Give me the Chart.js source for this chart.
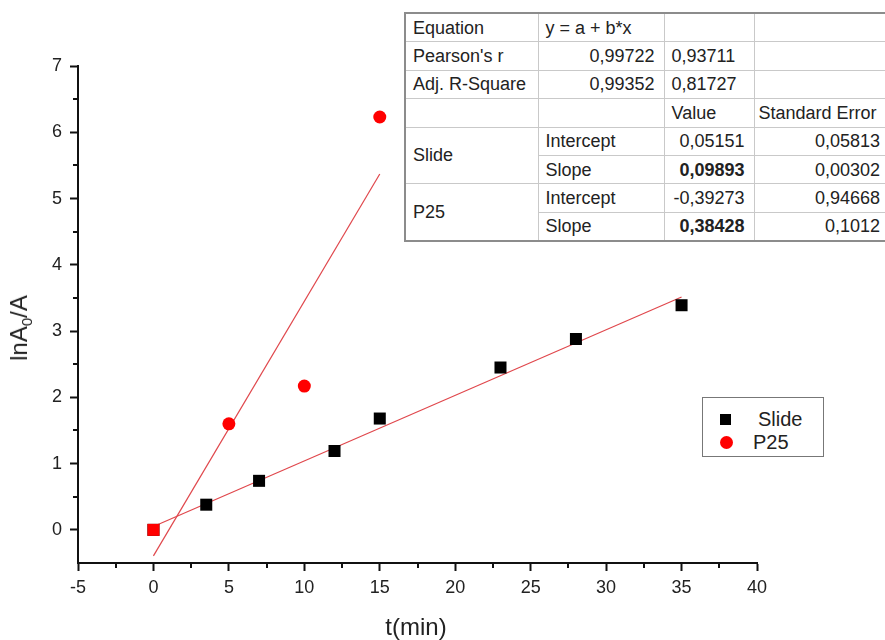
<!DOCTYPE html>
<html>
<head>
<meta charset="utf-8">
<script src="https://cdn.jsdelivr.net/npm/chart.js@4/dist/chart.umd.min.js"></script>
<style>
  html, body { margin: 0; padding: 0; background: #fff; }
  #wrap { position: relative; width: 885px; height: 640px; overflow: hidden; font-family: "Liberation Sans", Arial, sans-serif; color: #222; }
  #c { position: absolute; left: 0; top: 0; }
  #ytitle { position: absolute; left: 20px; top: 328px; transform: translate(-50%, -50%) rotate(-90deg); font-size: 24px; white-space: nowrap; }
  #ytitle sub { font-size: 15px; vertical-align: -5px; }
  #xtitle { position: absolute; left: 416px; top: 627px; transform: translate(-50%, -50%); font-size: 24px; white-space: nowrap; }
  #legend { position: absolute; left: 702px; top: 397px; width: 120px; height: 58px; border: 1px solid #777; background: #fff; font-size: 20px; }
  #legend .it { position: absolute; white-space: nowrap; }
  #legend .sq { position: absolute; width: 11px; height: 11px; background: #000; }
  #legend .ci { position: absolute; width: 13px; height: 13px; background: #f00; border-radius: 50%; }
  table.fit { position: absolute; left: 404px; top: 12px; border-collapse: collapse; border: 2px solid #8c8c8c; font-size: 18px; background: #fff; table-layout: fixed; }
  table.fit td { border: 1px solid #c9c9c9; height: 27.4px; padding: 0; white-space: nowrap; overflow: hidden; line-height: 20px; }
  table.fit td.l { text-align: left; padding-left: 7px; }
  table.fit td.l4 { text-align: left; padding-left: 4px; }
  table.fit td.r { text-align: right; padding-right: 9px; }
  table.fit td.b { font-weight: bold; }
</style>
</head>
<body>
<div id="wrap">
  <canvas id="c" width="885" height="640"></canvas>
  <div id="ytitle">lnA<sub>0</sub>/A</div>
  <div id="xtitle">t(min)</div>
  <table class="fit" id="fitTable"></table>
  <div id="legend"></div>
</div>
<script>
// ---- data ----
const slideT = [0, 3.5, 7, 12, 15, 23, 28, 35];
const slideY = [0, 0.38, 0.74, 1.19, 1.68, 2.45, 2.88, 3.39];
const p25T = [0, 5, 10, 15];
const p25Y = [0, 1.6, 2.17, 6.23];
// linear fit lines (endpoints from the fit table: y = a + b*x)
const slideFitT = [0, 35];
const slideFitY = [0.0515, 3.514];
const p25FitT = [0, 15];
const p25FitY = [-0.393, 5.371];
// axis ticks
const xTicks = [-5, 0, 5, 10, 15, 20, 25, 30, 35, 40];
const xMinorTicks = [-2.5, 2.5, 7.5, 12.5, 17.5, 22.5, 27.5, 32.5, 37.5];
const yTicks = [0, 1, 2, 3, 4, 5, 6, 7];
const yMinorTicks = [0.5, 1.5, 2.5, 3.5, 4.5, 5.5, 6.5];
// legend
const seriesNames = ["Slide", "P25"];
// fit table rows
const tableRows = [
  [["Equation","l"], ["y = a + b*x","l"], ["",""], ["",""]],
  [["Pearson's r","l"], ["0,99722","r"], ["0,93711","l"], ["",""]],
  [["Adj. R-Square","l"], ["0,99352","r"], ["0,81727","l"], ["",""]],
  [["","l"], ["","l"], ["Value","l"], ["Standard Error","l4"]],
  [["Slide","l",2], ["Intercept","l"], ["0,05151","r"], ["0,05813","r"]],
  [["Slope","l"], ["0,09893","r b"], ["0,00302","r"]],
  [["P25","l",2], ["Intercept","l"], ["-0,39273","r"], ["0,94668","r"]],
  [["Slope","l"], ["0,38428","r b"], ["0,1012","r"]]
];

// ---- table ----
const colW = [133, 126, 90, 136];
const tbl = document.getElementById('fitTable');
const cg = document.createElement('colgroup');
colW.forEach(w => { const c = document.createElement('col'); c.style.width = w + 'px'; cg.appendChild(c); });
tbl.appendChild(cg);
tableRows.forEach(row => {
  const tr = document.createElement('tr');
  row.forEach(cell => {
    const td = document.createElement('td');
    td.textContent = cell[0];
    td.className = cell[1];
    if (cell[2]) td.rowSpan = cell[2];
    tr.appendChild(td);
  });
  tbl.appendChild(tr);
});
tbl.style.width = colW.reduce((a, b) => a + b, 0) + 'px';

// ---- legend ----
const lg = document.getElementById('legend');
lg.innerHTML =
  '<div class="sq" style="left:17px;top:16px"></div>' +
  '<div class="it" style="left:55px;top:10px">' + seriesNames[0] + '</div>' +
  '<div class="ci" style="left:17px;top:38px"></div>' +
  '<div class="it" style="left:50px;top:33px">' + seriesNames[1] + '</div>';

const pts = (xs, ys) => xs.map((x, i) => ({x: x, y: ys[i]}));

// minor ticks plugin (drawn through the library's scales)
const minorTicks = {
  id: 'minorTicks',
  afterDraw(chart) {
    const ctx = chart.ctx, xs = chart.scales.x, ys = chart.scales.y;
    const ca = chart.chartArea;
    ctx.save();
    ctx.strokeStyle = '#111';
    ctx.lineWidth = 2;
    ctx.beginPath();
    xMinorTicks.forEach(v => { const p = Math.round(xs.getPixelForValue(v)); ctx.moveTo(p, ca.bottom); ctx.lineTo(p, ca.bottom + 5); });
    yMinorTicks.forEach(v => { const p = Math.round(ys.getPixelForValue(v)); ctx.moveTo(ca.left, p); ctx.lineTo(ca.left - 5, p); });
    ctx.stroke();
    ctx.restore();
  }
};

const tickFont = {family: "'Liberation Sans', Arial, sans-serif", size: 18};
new Chart(document.getElementById('c'), {
  type: 'scatter',
  data: {
    datasets: [
      {label: 'P25', data: pts(p25T, p25Y), backgroundColor: '#ff0000', borderColor: '#ff0000',
       pointStyle: ['rect', 'circle', 'circle', 'circle'], pointRadius: [8.5, 6.5, 6.5, 6.5], borderWidth: 0, order: 0},
      {label: 'Slide', data: pts(slideT, slideY), backgroundColor: '#000', borderColor: '#000',
       pointStyle: 'rect', pointRadius: 8.5, borderWidth: 0, order: 1},
      {label: 'Slide fit', data: pts(slideFitT, slideFitY), showLine: true, borderColor: '#e0474c', borderWidth: 1.2,
       pointRadius: 0, fill: false, tension: 0, order: 2},
      {label: 'P25 fit', data: pts(p25FitT, p25FitY), showLine: true, borderColor: '#e0474c', borderWidth: 1.2,
       pointRadius: 0, fill: false, tension: 0, order: 3}
    ]
  },
  options: {
    responsive: false,
    animation: false,
    devicePixelRatio: 1,
    layout: {padding: {left: 0, right: 128, top: 66, bottom: 27}},
    plugins: {legend: {display: false}, tooltip: {enabled: false}},
    scales: {
      x: {
        type: 'linear', min: -5, max: 40,
        afterBuildTicks: s => { s.ticks = xTicks.map(v => ({value: v})); },
        afterFit: s => { s.height = 50; },
        grid: {display: true, drawOnChartArea: false, drawTicks: true, tickLength: 8, tickWidth: 2, tickColor: '#111'},
        border: {display: true, color: '#111', width: 2},
        ticks: {font: tickFont, color: '#222', padding: 6, maxRotation: 0, autoSkip: false}
      },
      y: {
        type: 'linear', min: -0.5, max: 7,
        afterBuildTicks: s => { s.ticks = yTicks.map(v => ({value: v})); },
        afterFit: s => { s.width = 78; },
        grid: {display: true, drawOnChartArea: false, drawTicks: true, tickLength: 8, tickWidth: 2, tickColor: '#111'},
        border: {display: true, color: '#111', width: 2},
        ticks: {font: tickFont, color: '#222', padding: 8, autoSkip: false}
      }
    }
  },
  plugins: [minorTicks]
});
</script>
</body>
</html>
